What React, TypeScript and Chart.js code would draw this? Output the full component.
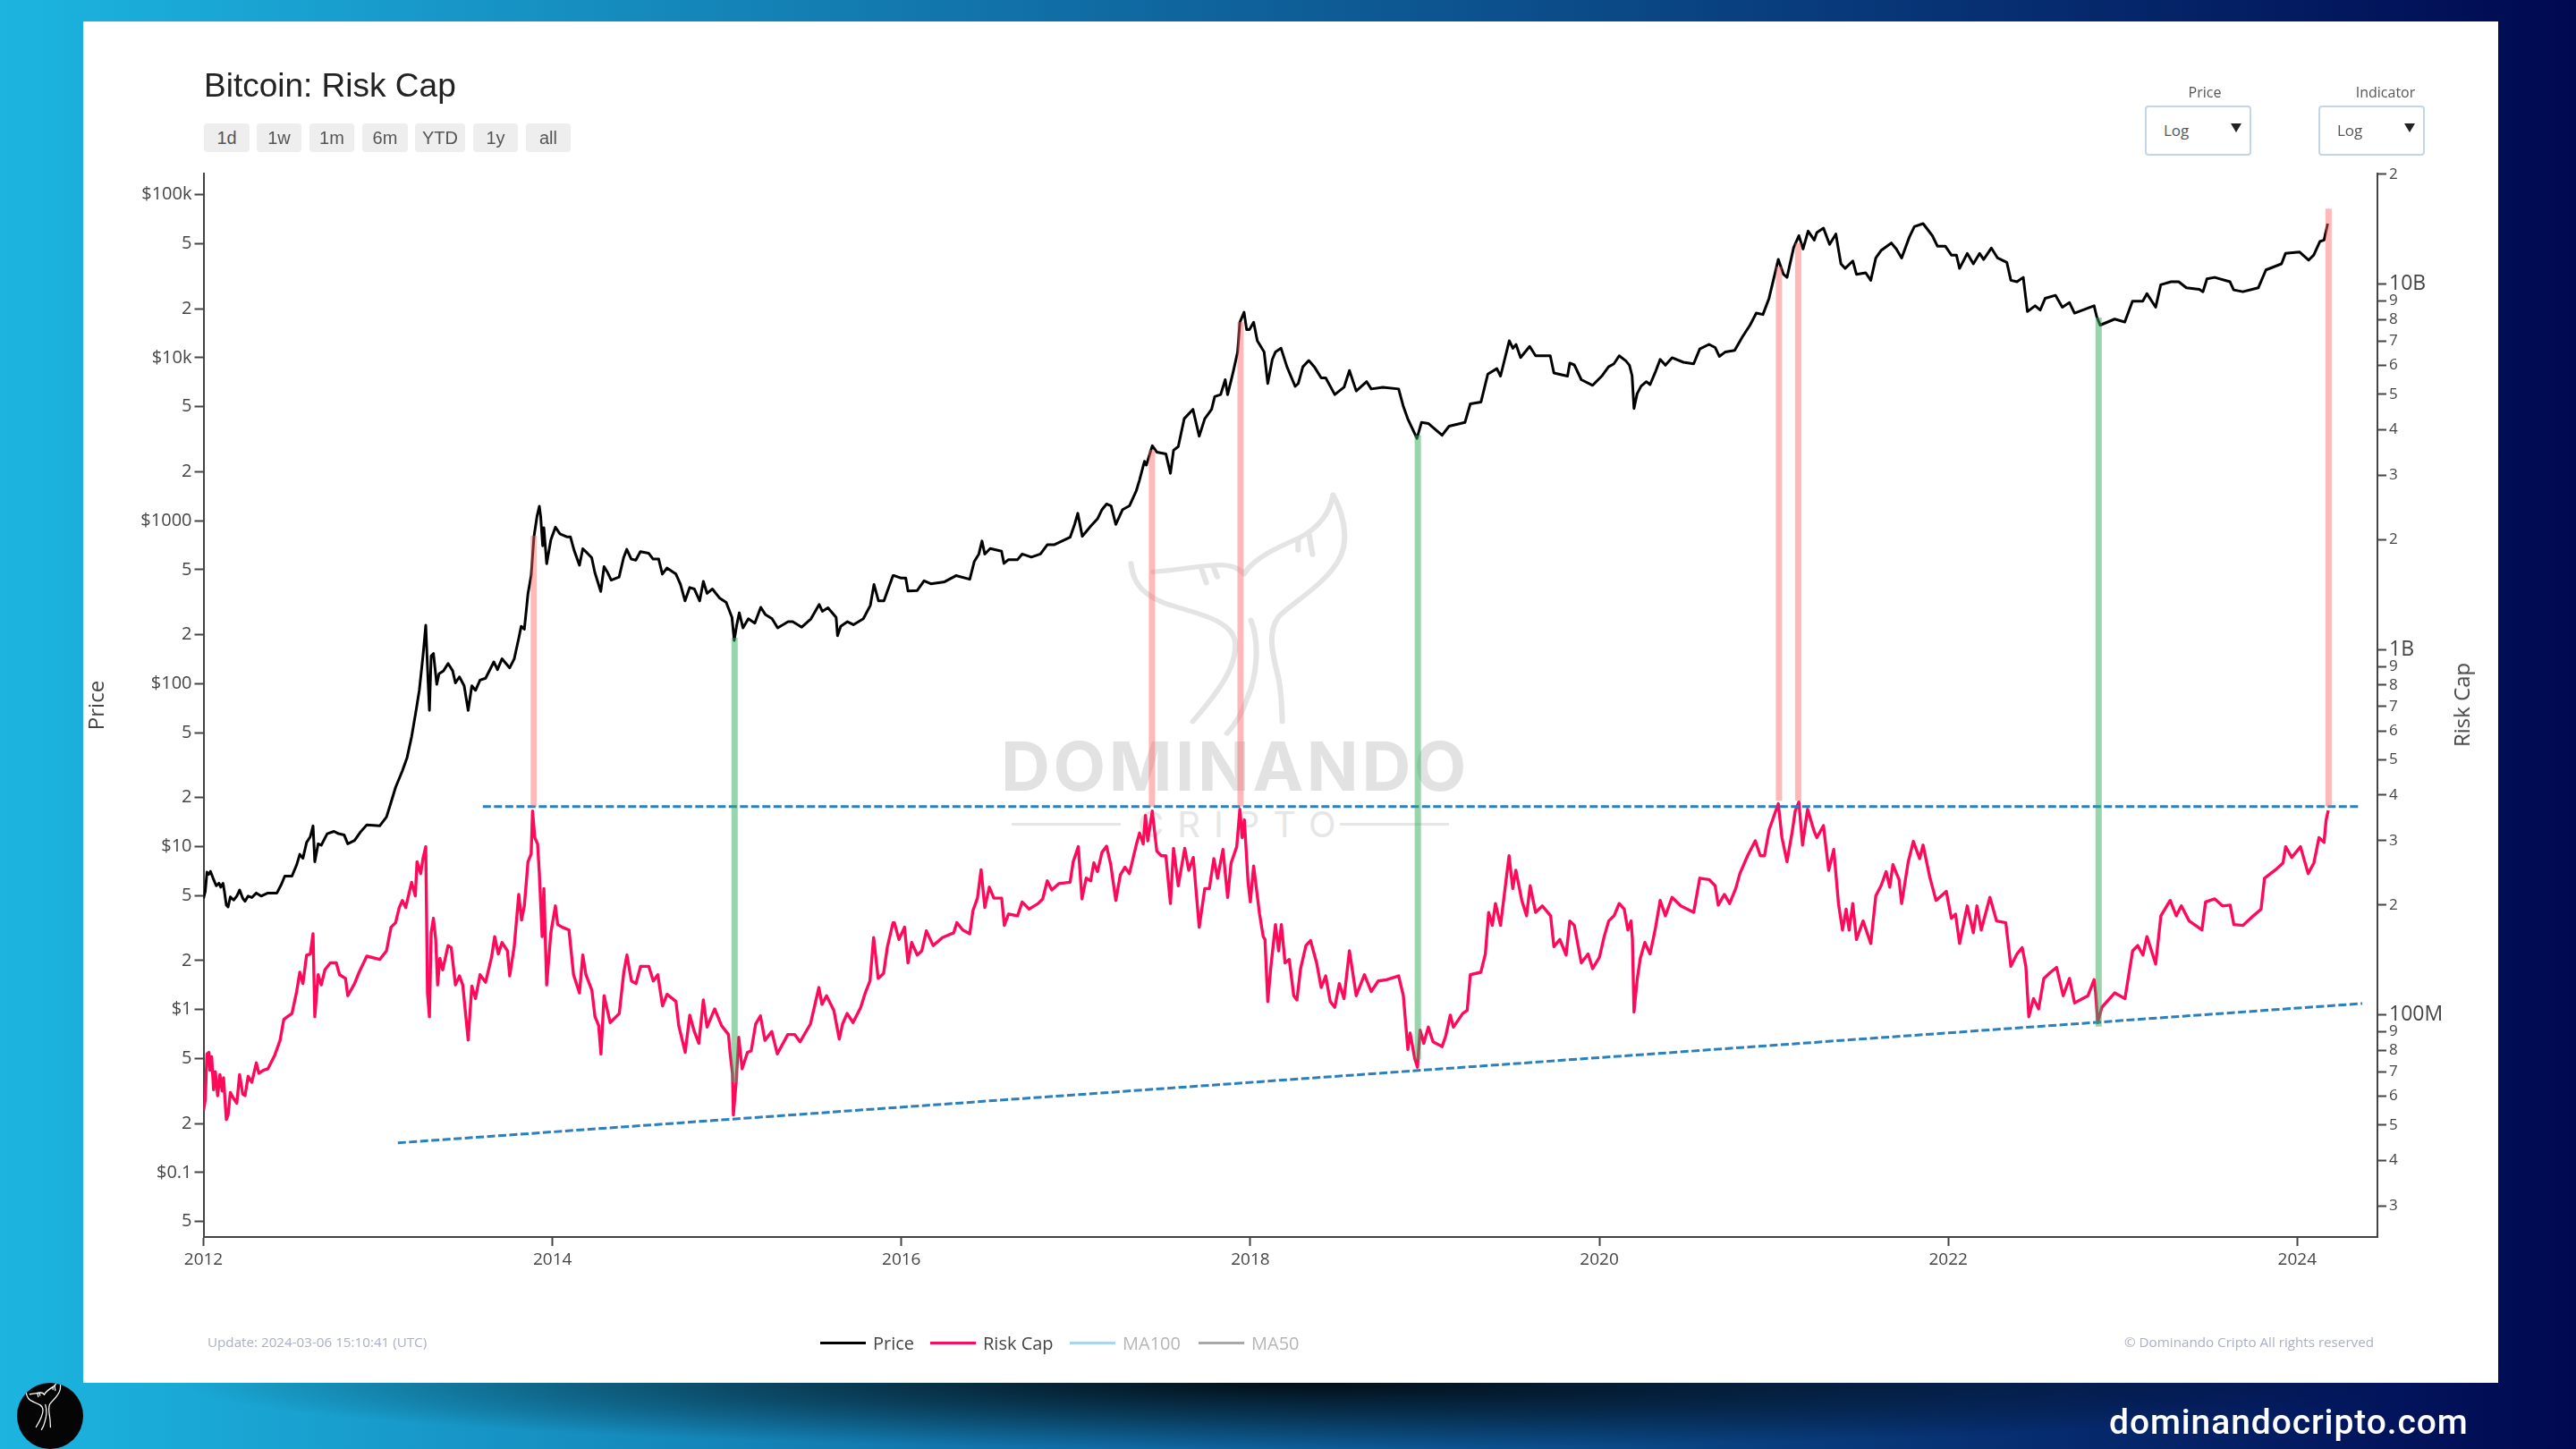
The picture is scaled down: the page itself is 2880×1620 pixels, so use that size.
import React, { useEffect, useRef } from "react";
import { Chart, registerables } from "chart.js";

Chart.register(...registerables);

const priceYears = [
  2012.0, 2012.01, 2012.02, 2012.03, 2012.04, 2012.055, 2012.073, 2012.089, 2012.099, 2012.112, 2012.12, 2012.131, 2012.141, 2012.154, 2012.173, 2012.191, 2012.207, 2012.225, 2012.238, 2012.256, 2012.277, 2012.303, 2012.33, 2012.369, 2012.421, 2012.447, 2012.466, 2012.507, 2012.534, 2012.552, 2012.57, 2012.591, 2012.612, 2012.628, 2012.638, 2012.657, 2012.675, 2012.709, 2012.748, 2012.774, 2012.806, 2012.827, 2012.866, 2012.9, 2012.936, 2013.01,
  2013.049, 2013.075, 2013.101, 2013.14, 2013.167, 2013.193, 2013.219, 2013.237, 2013.258, 2013.274, 2013.287, 2013.295, 2013.305, 2013.318, 2013.337, 2013.35, 2013.376, 2013.402, 2013.428, 2013.444, 2013.467, 2013.494, 2013.517, 2013.538, 2013.559, 2013.585, 2013.617, 2013.664, 2013.685, 2013.711, 2013.755, 2013.781, 2013.807, 2013.821, 2013.839, 2013.86, 2013.878, 2013.894, 2013.912, 2013.925, 2013.933, 2013.944, 2013.951, 2013.967, 2013.991,
  2014.017, 2014.043, 2014.082, 2014.103, 2014.124, 2014.155, 2014.174, 2014.2, 2014.225, 2014.243, 2014.277, 2014.296, 2014.316, 2014.337, 2014.382, 2014.408, 2014.426, 2014.452, 2014.478, 2014.504, 2014.551, 2014.577, 2014.609, 2014.63, 2014.656, 2014.708, 2014.734, 2014.76, 2014.787, 2014.813, 2014.844, 2014.865, 2014.886, 2014.917, 2014.957, 2014.996,
  2015.029, 2015.042, 2015.055, 2015.071, 2015.092, 2015.123, 2015.16, 2015.194, 2015.22, 2015.259, 2015.291, 2015.351, 2015.377, 2015.429, 2015.482, 2015.529, 2015.547, 2015.579, 2015.626, 2015.634, 2015.652, 2015.691, 2015.725, 2015.782, 2015.822, 2015.843, 2015.869, 2015.9, 2015.921, 2015.952,
  2015.96, 2015.999, 2016.025, 2016.038, 2016.091, 2016.13, 2016.169, 2016.248, 2016.313, 2016.392, 2016.418, 2016.444, 2016.462, 2016.478, 2016.509, 2016.574, 2016.588, 2016.614, 2016.666, 2016.692, 2016.745, 2016.797, 2016.836, 2016.875, 2016.967, 2016.993,
  2017.011, 2017.037, 2017.085, 2017.124, 2017.15, 2017.176, 2017.202, 2017.229, 2017.268, 2017.307, 2017.346, 2017.365, 2017.393, 2017.404, 2017.438, 2017.464, 2017.516, 2017.542, 2017.56, 2017.587, 2017.621, 2017.671, 2017.707, 2017.739, 2017.778, 2017.796, 2017.83, 2017.856, 2017.87, 2017.901, 2017.927, 2017.94, 2017.964, 2017.979, 2017.995,
  2018.019, 2018.04, 2018.079, 2018.1, 2018.126, 2018.144, 2018.176, 2018.21, 2018.257, 2018.275, 2018.301, 2018.335, 2018.367, 2018.406, 2018.432, 2018.484, 2018.537, 2018.568, 2018.607, 2018.667, 2018.693, 2018.759, 2018.85, 2018.876, 2018.902, 2018.955, 2018.981,
  2019.02, 2019.099, 2019.139, 2019.23, 2019.261, 2019.322, 2019.361, 2019.413, 2019.434, 2019.484, 2019.505, 2019.523, 2019.549, 2019.601, 2019.635, 2019.719, 2019.74, 2019.818, 2019.831, 2019.857, 2019.897, 2019.962,
  2020.014, 2020.053, 2020.084, 2020.114, 2020.152, 2020.173, 2020.188, 2020.199, 2020.217, 2020.24, 2020.27, 2020.291, 2020.32, 2020.349, 2020.379, 2020.417, 2020.482, 2020.541, 2020.576, 2020.629, 2020.664, 2020.688, 2020.723, 2020.776, 2020.82, 2020.864, 2020.9, 2020.938, 2020.973,
  2021.026, 2021.056, 2021.076, 2021.114, 2021.144, 2021.168, 2021.197, 2021.232, 2021.247, 2021.285, 2021.32, 2021.356, 2021.385, 2021.409, 2021.453, 2021.474, 2021.527, 2021.556, 2021.585, 2021.615, 2021.674, 2021.703, 2021.733, 2021.777, 2021.806, 2021.856, 2021.909, 2021.938, 2021.983,
  2022.018, 2022.047, 2022.065, 2022.109, 2022.144, 2022.18, 2022.203, 2022.247, 2022.283, 2022.336, 2022.359, 2022.394, 2022.43, 2022.454, 2022.498, 2022.527, 2022.556, 2022.615, 2022.654, 2022.695, 2022.724, 2022.836, 2022.851, 2022.871, 2022.954,
  2023.012, 2023.056, 2023.115, 2023.139, 2023.189, 2023.218, 2023.277, 2023.321, 2023.365, 2023.439, 2023.46, 2023.483, 2023.527, 2023.615, 2023.636, 2023.689, 2023.777, 2023.821, 2023.91, 2023.933,
  2024.013, 2024.066, 2024.095, 2024.13, 2024.154, 2024.175,
];

const priceValues = [
  4.82, 5.3, 6.97, 6.76, 7.05, 6.4, 5.75, 5.96, 5.64, 5.96, 5.3, 4.37, 4.26, 4.91, 4.7, 4.97, 5.41, 4.82, 4.62, 4.97, 4.87, 5.19, 4.97, 5.19, 5.19, 5.88, 6.59, 6.59, 7.73, 8.97, 8.48, 10.6, 11.5, 13.4, 8.07, 10.4, 10.2, 12.0, 12.4, 12.0, 11.8, 10.4, 10.9, 12.3, 13.6, 13.4,
  15.2, 18.7, 23.1, 29.2, 35.2, 47.3, 69, 91, 148, 228, 105, 68.5, 148, 153, 99, 115, 120, 133, 120, 101, 110, 97, 68.5, 97, 91, 105, 108, 136, 122, 142, 125, 142, 190, 225, 216, 358, 460, 796, 1070, 1225, 1047, 701, 904, 545, 764,
  912, 830, 796, 796, 659, 533, 673, 632, 593, 481, 368, 522, 481, 432, 451, 593, 667, 581, 573, 645, 632, 581, 581, 470, 512, 470, 406, 322, 389, 381, 322, 424, 358, 381, 336, 315,
  255, 184, 225, 272, 220, 250, 235, 294, 266, 250, 220, 240, 240, 222, 250, 306, 278, 292, 255, 197, 225, 240, 230, 250, 302, 406, 322, 322, 373, 460,
  460, 444, 444, 370, 373, 428, 410, 422, 460, 437, 562, 624, 750, 624, 675, 650, 547, 577, 577, 624, 598, 624, 711, 711, 791, 949,
  1110, 802, 925, 1026, 1170, 1266, 1233, 949, 1170, 1233, 1520, 1778, 2312, 2194, 2884, 2636, 2570, 1954, 2704, 2851, 4225, 4820, 3302, 4225, 4820, 5780, 5940, 7330, 5940, 8130, 10840, 16500, 19000, 14860, 14860,
  16500, 12700, 10840, 6950, 9770, 10840, 11430, 8790, 6670, 6950, 8790, 9620, 8790, 7520, 7520, 5940, 6590, 8340, 6250, 7130, 6430, 6590, 6430, 5070, 4225, 3200, 4010,
  3950, 3340, 3800, 4010, 5210, 5350, 7930, 8570, 7710, 12700, 11430, 12050, 10020, 11730, 10280, 10280, 8060, 7710, 9270, 9030, 7330, 6770,
  7710, 8790, 9180, 10280, 9570, 8990, 7760, 4880, 6020, 6700, 7130, 6840, 8090, 9770, 8990, 10000, 9380, 9180, 11330, 12080, 11560, 10190, 10860, 11090, 13400, 15850, 18790, 18410, 23170,
  40090, 32500, 31120, 47400, 56100, 46450, 59840, 52720, 58610, 62370, 49550, 57410, 37670, 35320, 39260, 32500, 33190, 29850, 40930, 45500, 50580, 46450, 40930, 54950, 63680, 66530, 56100, 48420, 48420,
  42660, 42660, 35320, 43650, 37670, 43650, 40090, 47100, 40930, 38460, 29850, 29240, 31120, 19190, 20840, 19590, 23170, 24150, 20420, 21780, 18790, 20840, 17870, 15850, 17260,
  16560, 22230, 22230, 24720, 20420, 28050, 29240, 29240, 26850, 26300, 25410, 30480, 31120, 29240, 26060, 25410, 26850, 34590, 37670, 43650,
  44560, 39720, 42660, 51640, 52720, 66530,
];

const riskYears = [
  2012.0, 2012.01, 2012.02, 2012.031, 2012.037, 2012.047, 2012.058, 2012.068, 2012.081, 2012.094, 2012.107, 2012.115, 2012.131, 2012.141, 2012.154, 2012.173, 2012.191, 2012.207, 2012.225, 2012.238, 2012.256, 2012.277, 2012.303, 2012.317, 2012.343, 2012.369, 2012.408, 2012.439, 2012.46, 2012.481, 2012.507, 2012.534, 2012.552, 2012.57, 2012.591, 2012.612, 2012.628, 2012.638, 2012.657, 2012.675, 2012.696, 2012.727, 2012.761, 2012.78, 2012.814, 2012.827, 2012.866, 2012.892, 2012.936,
  2013.01, 2013.049, 2013.075, 2013.101, 2013.122, 2013.14, 2013.159, 2013.193, 2013.214, 2013.224, 2013.245, 2013.258, 2013.274, 2013.284, 2013.295, 2013.305, 2013.318, 2013.331, 2013.342, 2013.355, 2013.371, 2013.402, 2013.42, 2013.444, 2013.467, 2013.486, 2013.517, 2013.538, 2013.559, 2013.585, 2013.617, 2013.651, 2013.669, 2013.69, 2013.711, 2013.742, 2013.755, 2013.781, 2013.807, 2013.823, 2013.839, 2013.86, 2013.878, 2013.886, 2013.899, 2013.915, 2013.925, 2013.941, 2013.951, 2013.967, 2013.991,
  2014.017, 2014.03, 2014.056, 2014.095, 2014.121, 2014.155, 2014.174, 2014.192, 2014.226, 2014.244, 2014.265, 2014.278, 2014.296, 2014.331, 2014.383, 2014.409, 2014.427, 2014.453, 2014.479, 2014.505, 2014.552, 2014.578, 2014.604, 2014.631, 2014.657, 2014.708, 2014.724, 2014.761, 2014.787, 2014.813, 2014.839, 2014.865, 2014.886, 2014.93, 2014.969,
  2015.009, 2015.019, 2015.032, 2015.037, 2015.053, 2015.068, 2015.087, 2015.118, 2015.139, 2015.165, 2015.192, 2015.218, 2015.257, 2015.289, 2015.349, 2015.388, 2015.419, 2015.479, 2015.527, 2015.545, 2015.571, 2015.613, 2015.644, 2015.663, 2015.689, 2015.723, 2015.767, 2015.793, 2015.82, 2015.841, 2015.867, 2015.898, 2015.919, 2015.952,
  2015.96, 2015.986, 2016.018, 2016.038, 2016.059, 2016.091, 2016.117, 2016.143, 2016.182, 2016.235, 2016.3, 2016.318, 2016.352, 2016.392, 2016.41, 2016.436, 2016.457, 2016.478, 2016.504, 2016.53, 2016.575, 2016.59, 2016.614, 2016.666, 2016.692, 2016.732, 2016.784, 2016.81, 2016.836, 2016.862, 2016.902, 2016.967, 2016.985,
  2017.014, 2017.035, 2017.059, 2017.085, 2017.103, 2017.124, 2017.15, 2017.176, 2017.2, 2017.229, 2017.255, 2017.281, 2017.307, 2017.346, 2017.365, 2017.386, 2017.399, 2017.412, 2017.438, 2017.464, 2017.49, 2017.516, 2017.542, 2017.56, 2017.587, 2017.624, 2017.647, 2017.673, 2017.707, 2017.739, 2017.765, 2017.791, 2017.812, 2017.843, 2017.87, 2017.89, 2017.922, 2017.94, 2017.953, 2017.966, 2017.987,
  2018.0, 2018.019, 2018.053, 2018.074, 2018.084, 2018.1, 2018.118, 2018.144, 2018.162, 2018.178, 2018.199, 2018.223, 2018.249, 2018.267, 2018.288, 2018.319, 2018.345, 2018.38, 2018.406, 2018.432, 2018.458, 2018.484, 2018.51, 2018.537, 2018.568, 2018.607, 2018.654, 2018.693, 2018.733, 2018.78, 2018.85, 2018.877, 2018.903, 2018.916, 2018.942, 2018.958, 2018.973, 2018.994,
  2019.02, 2019.047, 2019.099, 2019.12, 2019.146, 2019.164, 2019.217, 2019.243, 2019.261, 2019.321, 2019.347, 2019.366, 2019.387, 2019.405, 2019.434, 2019.483, 2019.504, 2019.522, 2019.556, 2019.583, 2019.604, 2019.635, 2019.674, 2019.721, 2019.74, 2019.774, 2019.81, 2019.831, 2019.857, 2019.897, 2019.936, 2019.962,
  2020.001, 2020.028, 2020.054, 2020.085, 2020.114, 2020.143, 2020.164, 2020.182, 2020.19, 2020.199, 2020.217, 2020.235, 2020.261, 2020.291, 2020.32, 2020.349, 2020.379, 2020.417, 2020.467, 2020.541, 2020.576, 2020.629, 2020.664, 2020.682, 2020.717, 2020.747, 2020.782, 2020.806, 2020.85, 2020.894, 2020.923, 2020.947, 2020.973,
  2021.026, 2021.047, 2021.076, 2021.106, 2021.123, 2021.144, 2021.165, 2021.194, 2021.232, 2021.247, 2021.285, 2021.315, 2021.344, 2021.371, 2021.394, 2021.415, 2021.432, 2021.453, 2021.474, 2021.512, 2021.556, 2021.585, 2021.615, 2021.644, 2021.665, 2021.683, 2021.718, 2021.733, 2021.771, 2021.8, 2021.836, 2021.856, 2021.894, 2021.93, 2021.989,
  2022.018, 2022.042, 2022.065, 2022.109, 2022.144, 2022.165, 2022.189, 2022.239, 2022.277, 2022.33, 2022.359, 2022.394, 2022.424, 2022.445, 2022.462, 2022.489, 2022.518, 2022.548, 2022.586, 2022.621, 2022.659, 2022.695, 2022.724, 2022.801, 2022.836, 2022.845, 2022.857, 2022.88, 2022.954,
  2023.013, 2023.057, 2023.086, 2023.116, 2023.139, 2023.189, 2023.219, 2023.272, 2023.307, 2023.336, 2023.381, 2023.454, 2023.475, 2023.528, 2023.572, 2023.616, 2023.637, 2023.69, 2023.749, 2023.793, 2023.813, 2023.881, 2023.919, 2023.934, 2023.969,
  2024.019, 2024.063, 2024.096, 2024.125, 2024.154, 2024.166, 2024.178,
];

// millions of dollars
const riskValues = [
  54.8, 58.5, 78.3, 79.1, 70.6, 76.9, 62.5, 70, 60.2, 68.7, 62, 67.4, 51.8, 53.3, 61.4, 59.1, 57.4, 68.7, 60.8, 60.2, 68, 65.5, 74, 69.3, 70.6, 71.3, 77.6, 85.3, 97.2, 99, 101, 116, 131, 122, 146, 147, 167, 99, 129, 121, 133, 139, 139, 129, 126, 113, 122, 131, 145,
  142, 150, 174, 179, 197, 206, 197, 231, 212, 263, 244, 268, 289, 115, 99, 168, 184, 161, 121, 143, 133, 155, 153, 121, 128, 121, 85.5, 120, 111, 129, 123, 144, 164, 147, 158, 150, 128, 154, 214, 182, 199, 263, 276, 362, 306, 294, 244, 164, 222, 121, 168,
  199, 177, 174, 171, 129, 115, 146, 129, 117, 99, 93.6, 78.3, 113, 95.4, 101, 131, 146, 124, 122, 136, 136, 124, 129, 106, 114, 109, 93.6, 79.1, 100, 90.2, 83.7, 110, 92.7, 104, 93.6,
  88.5, 78.3, 69.3, 53.3, 65.5, 86.9, 71.3, 79.1, 79.8, 94.6, 99.5, 85.3, 90.2, 78.3, 88.5, 88.5, 84.5, 94.6, 119, 107, 113, 103, 86, 94.6, 101, 95.4, 105, 115, 124, 163, 126, 130, 153, 179,
  179, 161, 174, 139, 158, 146, 150, 170, 155, 163, 168, 179, 171, 167, 193, 209, 250, 197, 224, 209, 209, 176, 189, 187, 204, 195, 202, 208, 233, 220, 229, 231, 263,
  289, 208, 237, 233, 261, 247, 279, 290, 258, 206, 242, 254, 244, 292, 315, 294, 352, 300, 362, 281, 273, 273, 202, 286, 226, 286, 249, 270, 174, 222, 222, 268, 237, 284, 210, 261, 289, 366, 306, 342, 231,
  204, 256, 189, 164, 161, 109, 136, 177, 150, 177, 139, 142, 113, 110, 134, 155, 160, 139, 119, 128, 109, 105, 122, 111, 150, 113, 129, 116, 124, 125, 128, 113, 80.5, 89.3, 76.2, 72, 91, 83.7,
  92.7, 84.5, 82, 87.7, 100, 92.7, 101, 103, 129, 131, 147, 191, 176, 202, 176, 273, 222, 249, 206, 187, 226, 191, 199, 187, 154, 161, 146, 181, 176, 139, 147, 134,
  144, 164, 181, 187, 202, 195, 171, 181, 161, 102, 125, 143, 158, 147, 171, 206, 187, 210, 199, 191, 237, 235, 226, 200, 214, 202, 222, 244, 273, 300, 273, 273, 321,
  379, 306, 263, 318, 362, 383, 292, 366, 318, 306, 330, 249, 284, 202, 171, 195, 171, 202, 161, 181, 157, 212, 226, 247, 224, 258, 235, 202, 263, 299, 268, 292, 239, 206, 218,
  184, 189, 157, 199, 168, 199, 171, 210, 181, 179, 136, 147, 153, 136, 99, 111, 104, 126, 131, 135, 113, 126, 108, 113, 125, 115, 95.4, 105, 115,
  111, 150, 155, 146, 164, 138, 187, 206, 187, 199, 181, 171, 204, 208, 199, 200, 177, 176, 187, 195, 237, 251, 261, 289, 270,
  289, 244, 261, 306, 297, 342, 363,
];

// red tops and green bottoms, on the Risk Cap scale (millions)
const topSignalYears = [2013.893, 2017.436, 2017.944, 2021.03, 2021.14, 2024.18];
const topSignalHigh = [2051, 3523, 7885, 11170, 12970, 16110];
const topSignalLow = [372, 372, 372, 386, 386, 372];
const bottomSignalYears = [2015.044, 2018.96, 2022.862];
const bottomSignalHigh = [1079, 3864, 8110];
const bottomSignalLow = [65.5, 75.5, 93];

const ceilingYears = [2013.601, 2024.352];
const ceilingValues = [372, 372];
const floorYears = [2013.114, 2024.373];
const floorValues = [44.7, 107.6];

const yearTicks = [2012, 2014, 2016, 2018, 2020, 2022, 2024];
const priceTickValues = [100000, 50000, 20000, 10000, 5000, 2000, 1000, 500, 200, 100, 50, 20, 10, 5, 2, 1, 0.5, 0.2, 0.1, 0.05];
const priceTickLabels = ["$100k", "5", "2", "$10k", "5", "2", "$1000", "5", "2", "$100", "5", "2", "$10", "5", "2", "$1", "5", "2", "$0.1", "5"];
const riskTickValues = [20000, 10000, 9000, 8000, 7000, 6000, 5000, 4000, 3000, 2000, 1000, 900, 800, 700, 600, 500, 400, 300, 200, 100, 90, 80, 70, 60, 50, 40, 30];
const riskTickLabels = ["2", "10B", "9", "8", "7", "6", "5", "4", "3", "2", "1B", "9", "8", "7", "6", "5", "4", "3", "2", "100M", "9", "8", "7", "6", "5", "4", "3"];

const rangeButtons = [
  { label: "1d", left: 228, width: 51 },
  { label: "1w", left: 287, width: 50 },
  { label: "1m", left: 346, width: 50 },
  { label: "6m", left: 405, width: 51 },
  { label: "YTD", left: 464, width: 56 },
  { label: "1y", left: 529, width: 50 },
  { label: "all", left: 588, width: 50 },
];

const legendItems = [
  { label: "Price", line: "#000000", text: "#444444", left: 917 },
  { label: "Risk Cap", line: "#ff0a5a", text: "#444444", left: 1040 },
  { label: "MA100", line: "#a9d5f0", text: "#b5b5b5", left: 1196 },
  { label: "MA50", line: "#a8a8a8", text: "#b5b5b5", left: 1340 },
];

const FONT = '"Open Sans", sans-serif';
const AXIS = "#444444";

const toPoints = (xs: number[], ys: number[]) => xs.map((x, i) => ({ x, y: ys[i] }));

function signalBar(year: number, high: number, low: number, color: string) {
  return {
    data: [{ x: year, y: high }, { x: year, y: low }],
    yAxisID: "y1",
    borderColor: color,
    borderWidth: 7,
    pointRadius: 0,
  };
}

function TailMark({ color, width }: { color: string; width: number }) {
  return (
    <svg viewBox="0 0 1568 1260" preserveAspectRatio="none" width="100%" height="100%" fill="none" stroke={color} strokeWidth={width} strokeLinecap="round">
      <path d="M430 270 C435 340 470 385 560 415 C650 445 735 470 735 545 C735 630 670 720 610 800" />
      <path d="M495 298 C570 292 640 275 690 275 C720 275 745 285 760 305" />
      <path d="M635 285 L650 335 M670 280 L682 315 M918 188 L918 225 M950 172 L960 240" />
      <path d="M760 305 C790 250 860 215 920 185 C970 155 1010 110 1020 40" />
      <path d="M1020 40 C1050 100 1060 170 1050 220 C1030 320 900 400 860 450 C830 500 840 560 860 650 C870 700 870 750 872 800" />
      <path d="M780 460 C805 530 800 640 770 720 C755 770 735 810 710 840" />
    </svg>
  );
}

function at(left: number, top: number, extra: React.CSSProperties = {}): React.CSSProperties {
  return { position: "absolute", left, top, whiteSpace: "nowrap", ...extra };
}

export default function App() {
  const canvasRef = useRef<HTMLCanvasElement | null>(null);

  useEffect(() => {
    if (!canvasRef.current) return;

    const chart = new Chart(canvasRef.current, {
      type: "line",
      data: {
        datasets: [
          ...topSignalYears.map((y, i) => signalBar(y, topSignalHigh[i], topSignalLow[i], "rgba(255,100,100,0.45)")),
          ...bottomSignalYears.map((y, i) => signalBar(y, bottomSignalHigh[i], bottomSignalLow[i], "rgba(50,170,90,0.5)")),
          {
            label: "Ceiling",
            data: toPoints(ceilingYears, ceilingValues),
            yAxisID: "y1",
            borderColor: "#2a7fbf",
            borderWidth: 3,
            borderDash: [9, 3.5],
            pointRadius: 0,
          },
          {
            label: "Floor",
            data: toPoints(floorYears, floorValues),
            yAxisID: "y1",
            borderColor: "#2a7fbf",
            borderWidth: 3,
            borderDash: [9, 3.5],
            pointRadius: 0,
          },
          {
            label: "Price",
            data: toPoints(priceYears, priceValues),
            yAxisID: "y",
            borderColor: "#000000",
            borderWidth: 3,
            borderJoinStyle: "round",
            pointRadius: 0,
          },
          {
            label: "Risk Cap",
            data: toPoints(riskYears, riskValues),
            yAxisID: "y1",
            borderColor: "#ff0a5a",
            borderWidth: 3.4,
            borderJoinStyle: "round",
            pointRadius: 0,
          },
        ],
      },
      options: {
        responsive: false,
        devicePixelRatio: 1,
        animation: false,
        events: [],
        layout: { padding: { left: 92, right: 112, top: 194, bottom: 177 } },
        plugins: { legend: { display: false }, tooltip: { enabled: false } },
        scales: {
          x: {
            type: "linear",
            min: 2012,
            max: 2024.46,
            afterFit: (scale: any) => { scale.height = 60; },
            afterBuildTicks: (scale: any) => { scale.ticks = yearTicks.map((value) => ({ value })); },
            border: { color: AXIS, width: 2 },
            grid: { drawOnChartArea: false, tickLength: 10, tickColor: AXIS, tickWidth: 2 },
            ticks: {
              autoSkip: false,
              maxRotation: 0,
              padding: 4,
              color: AXIS,
              font: { family: FONT, size: 19 },
              callback: (v: any) => String(v),
            },
          },
          y: {
            type: "logarithmic",
            position: "left",
            min: 0.0402,
            max: 135000,
            afterFit: (scale: any) => { scale.width = 135.5; },
            afterBuildTicks: (scale: any) => { scale.ticks = priceTickValues.map((value) => ({ value })); },
            title: { display: true, text: "Price", color: AXIS, padding: 3, font: { family: FONT, size: 24 } },
            border: { color: AXIS, width: 2 },
            grid: { drawOnChartArea: false, tickLength: 10, tickColor: AXIS, tickWidth: 2 },
            ticks: {
              autoSkip: false,
              padding: 3,
              color: AXIS,
              font: { family: FONT, size: 20 },
              callback: (v: any) => priceTickLabels[priceTickValues.indexOf(v)],
            },
          },
          y1: {
            type: "logarithmic",
            position: "right",
            min: 24.7,
            max: 20100,
            afterFit: (scale: any) => { scale.width = 110; },
            afterBuildTicks: (scale: any) => { scale.ticks = riskTickValues.map((value) => ({ value })); },
            border: { color: AXIS, width: 2 },
            grid: { drawOnChartArea: false, tickLength: 10, tickColor: AXIS, tickWidth: 2 },
            ticks: {
              autoSkip: false,
              padding: 3,
              color: AXIS,
              font: (c: any) => ({ family: FONT, size: riskTickLabels[riskTickValues.indexOf(c.tick?.value)]?.length > 1 ? 23 : 17 }),
              callback: (v: any) => riskTickLabels[riskTickValues.indexOf(v)],
            },
          },
        },
      },
    } as any);

    return () => {
      chart.destroy();
    };
  }, []);

  return (
    <div style={{ position: "fixed", left: 0, top: 0, width: 2880, height: 1620, overflow: "hidden", background: "linear-gradient(90deg, #1cb5e0 0%, #000851 100%)", fontFamily: FONT }}>
      {/* shadow under the white panel */}
      <div style={at(150, 1546, { width: 2500, height: 74, background: "radial-gradient(ellipse 50% 100% at 52% 0%, rgba(0,0,0,0.85) 0%, rgba(0,0,0,0.45) 50%, rgba(0,0,0,0) 100%)" })} />
      <div style={at(93, 24, { width: 2700, height: 1522, background: "#ffffff" })} />

      {/* watermark, behind the chart */}
      <div style={at(1100, 540, { width: 600, height: 420 })}>
        <TailMark color="#e4e4e4" width={16} />
      </div>
      <div style={at(1119, 810, { fontFamily: "Inter", fontWeight: 700, fontSize: 76, lineHeight: "92px", letterSpacing: 3.6, color: "#e2e2e2" })}>DOMINANDO</div>
      <div style={at(1272, 898, { fontFamily: "Inter", fontWeight: 400, fontSize: 40, lineHeight: "48px", letterSpacing: 15, color: "#e6e6e6" })}>CRIPTO</div>
      <div style={at(1131, 920, { width: 122, height: 3, background: "#e6e6e6" })} />
      <div style={at(1498, 920, { width: 122, height: 3, background: "#e6e6e6" })} />

      <canvas ref={canvasRef} width={2880} height={1620} style={{ position: "absolute", left: 0, top: 0, width: 2880, height: 1620 }} />

      <div style={at(228, 75, { fontFamily: '"Liberation Sans", Arial, sans-serif', fontSize: 37, lineHeight: "42px", color: "#222222" })}>Bitcoin: Risk Cap</div>
      {rangeButtons.map((b) => (
        <div key={b.label} style={at(b.left, 138, { width: b.width, height: 32, lineHeight: "32px", textAlign: "center", background: "#eeeeee", borderRadius: 4, fontFamily: '"Liberation Sans", Arial, sans-serif', fontSize: 20, color: "#555555" })}>{b.label}</div>
      ))}

      <div style={at(2405, 93, { width: 120, textAlign: "center", fontSize: 16, lineHeight: "20px", color: "#555555" })}>Price</div>
      <div style={at(2607, 93, { width: 120, textAlign: "center", fontSize: 16, lineHeight: "20px", color: "#555555" })}>Indicator</div>
      {[2398, 2592].map((left) => (
        <div key={left} style={at(left, 118, { width: 119, height: 56, boxSizing: "border-box", border: "2px solid #c3d5e6", borderRadius: 4, background: "#ffffff" })}>
          <div style={at(19, 14, { fontSize: 17, lineHeight: "24px", color: "#555555" })}>Log</div>
          <div style={at(94, 18, { width: 0, height: 0, borderLeft: "6px solid transparent", borderRight: "6px solid transparent", borderTop: "10px solid #222222" })} />
        </div>
      ))}

      {/* right axis title reads bottom-up, chart.js would turn it the other way */}
      <div style={at(2752, 788, { fontSize: 24, lineHeight: "30px", color: AXIS, transform: "translate(-50%, -50%) rotate(-90deg)" })}>Risk Cap</div>

      <div style={at(232, 1490, { fontSize: 15.2, lineHeight: "20px", color: "#aab0c4" })}>Update: 2024-03-06 15:10:41 (UTC)</div>
      <div style={at(2375, 1490, { fontSize: 15.2, lineHeight: "20px", color: "#aab0c4" })}>© Dominando Cripto All rights reserved</div>

      {legendItems.map((item) => (
        <React.Fragment key={item.label}>
          <div style={at(item.left, 1500, { width: 51, height: 3, background: item.line })} />
          <div style={at(item.left + 59, 1488, { fontSize: 20, lineHeight: "27px", color: item.text })}>{item.label}</div>
        </React.Fragment>
      ))}

      {/* round logo, bottom left */}
      <div style={at(19, 1546, { width: 74, height: 74, borderRadius: "50%", background: "#050505", overflow: "hidden" })}>
        <div style={at(-16, -9, { width: 96, height: 92 })}>
          <TailMark color="#ffffff" width={20} />
        </div>
      </div>
      <div style={at(2358, 1566, { fontFamily: "Roboto", fontWeight: 500, fontSize: 39, lineHeight: "48px", letterSpacing: 0.9, color: "#ffffff" })}>dominandocripto.com</div>
    </div>
  );
}
